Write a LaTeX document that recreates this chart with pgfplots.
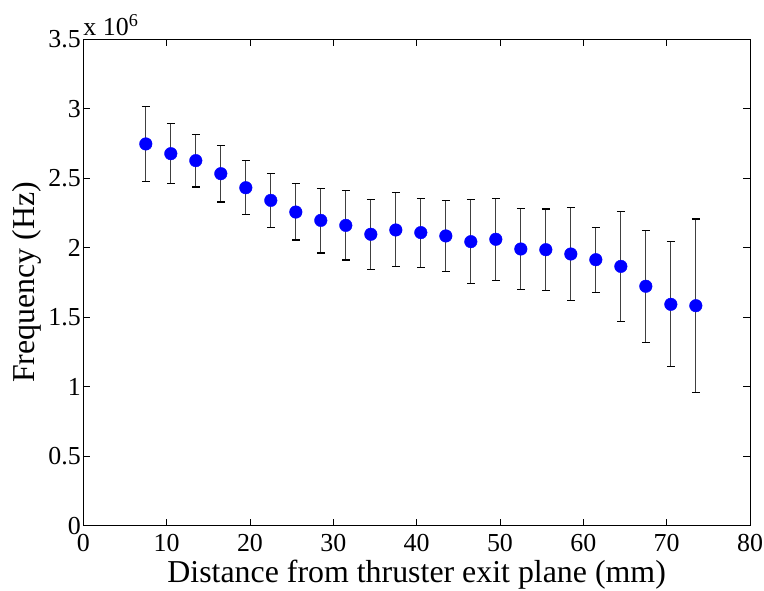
\documentclass[border=0pt]{standalone}
\usepackage{pgfplots}
\pgfplotsset{compat=1.18}
\usepackage{pgfplotstable}
\usepackage{fontspec}
\setmainfont{Liberation Serif}
\pgfplotstableread{
x y ep em
7.5 2.747 0.268 0.269
10.5 2.677 0.214 0.213
13.5 2.627 0.189 0.190
16.5 2.533 0.204 0.204
19.5 2.432 0.195 0.194
22.5 2.341 0.195 0.194
25.5 2.257 0.204 0.201
28.5 2.197 0.231 0.235
31.5 2.161 0.250 0.249
34.5 2.097 0.252 0.252
37.5 2.128 0.268 0.266
40.5 2.109 0.244 0.250
43.5 2.085 0.254 0.255
46.5 2.044 0.302 0.300
49.5 2.061 0.292 0.295
52.5 1.991 0.293 0.293
55.5 1.986 0.293 0.295
58.5 1.955 0.333 0.336
61.5 1.914 0.235 0.235
64.5 1.866 0.394 0.398
67.5 1.723 0.403 0.406
70.5 1.593 0.451 0.449
73.5 1.583 0.624 0.623
}\datatable
\begin{document}
\begin{tikzpicture}
\begin{axis}[
  name=ax,
  scale only axis,
  width=666.7bp, height=486.4bp,
  xmin=0, xmax=80, ymin=0, ymax=3.5,
  xtick={0,10,...,80},
  ytick={0,0.5,...,3.5},
  yticklabels={0,0.5,1,1.5,2,2.5,3,3.5},
  tick align=inside,
  major tick length=7bp,
  tick style={line width=0.8pt, black},
  axis line style={line width=1pt},
  /pgf/number format/assume math mode=true,
  ticklabel style={font=\fontsize{26}{28}\selectfont},
  xticklabel style={yshift=-5bp},
  yticklabel style={xshift=1bp},
  xlabel={Distance from thruster exit plane (mm)},
  ylabel={Frequency (Hz)},
  label style={font=\fontsize{32}{34}\selectfont},
  xlabel style={yshift=-2bp},
  ylabel style={yshift=0bp},
  clip=false,
]
\addplot[
  only marks,
  mark=*,
  mark size=6.3bp,
  mark options={fill=blue, draw=blue},
  error bars/.cd,
  y dir=both, y explicit,
  error bar style={line width=1.1pt, black!75},
  error mark options={rotate=90, mark size=4bp, line width=1.1pt, black},
] table[x=x, y=y, y error plus=ep, y error minus=em] {\datatable};
\node[anchor=south west, inner sep=0pt, font=\fontsize{26}{28}\selectfont] at ([yshift=3bp]rel axis cs:0,1) {x 10\textsuperscript{6}};
\end{axis}
\pgfresetboundingbox
\path ([shift={(-83.3bp,-64.3bp)}]ax.south west) rectangle ([shift={(14bp,39.3bp)}]ax.north east);
\end{tikzpicture}
\end{document}
